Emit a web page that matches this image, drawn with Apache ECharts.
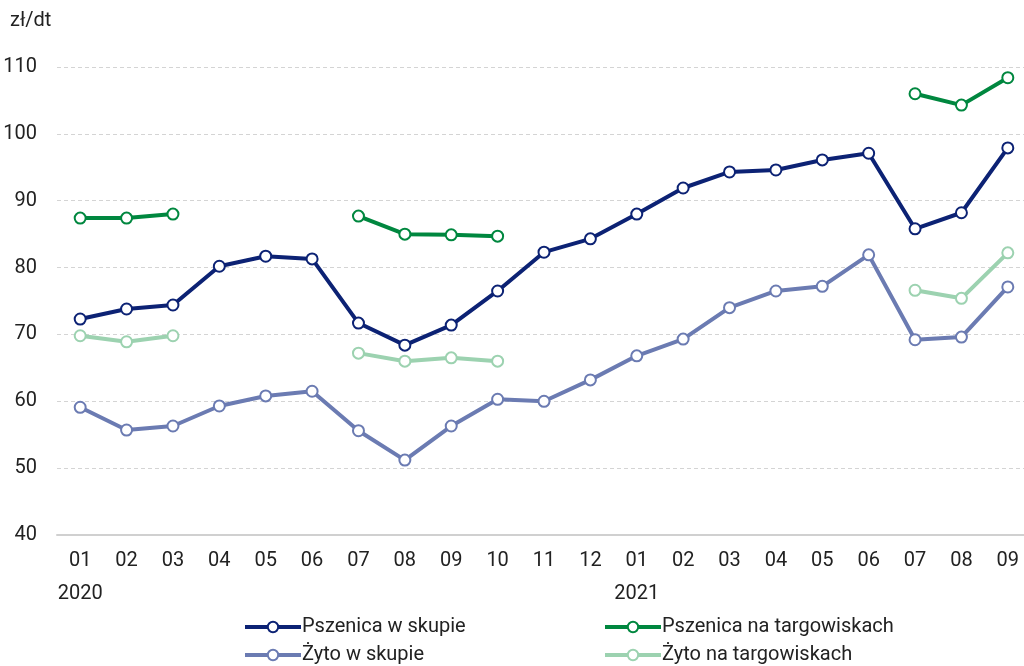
<!DOCTYPE html>
<html>
<head>
<meta charset="utf-8">
<script src="https://cdn.jsdelivr.net/npm/echarts@6/dist/echarts.min.js"></script>
<style>
  html, body { margin: 0; padding: 0; background: #fff; }
  #chart { width: 1024px; height: 666px; }
</style>
</head>
<body>
<div id="chart"></div>
<script>
// miesiące 2020-01 .. 2021-09
const months = ['01', '02', '03', '04', '05', '06', '07', '08', '09', '10', '11', '12',
                '01', '02', '03', '04', '05', '06', '07', '08', '09']
const yearLabels = { 0: '2020', 12: '2021' }

const pszenicaSkup = [72.3, 73.8, 74.4, 80.2, 81.7, 81.3, 71.7, 68.4, 71.4, 76.5, 82.3, 84.3,
                      88.0, 91.9, 94.3, 94.6, 96.1, 97.1, 85.8, 88.2, 97.9]
const pszenicaTarg = [87.4, 87.4, 88.0, null, null, null, 87.7, 85.0, 84.9, 84.7, null, null,
                      null, null, null, null, null, null, 106.0, 104.3, 108.4]
const zytoSkup = [59.1, 55.7, 56.3, 59.3, 60.8, 61.5, 55.6, 51.2, 56.3, 60.3, 60.0, 63.2,
                  66.8, 69.3, 74.0, 76.5, 77.2, 81.9, 69.2, 69.6, 77.1]
const zytoTarg = [69.8, 68.9, 69.8, null, null, null, 67.2, 66.0, 66.5, 66.0, null, null,
                  null, null, null, null, null, null, 76.6, 75.4, 82.2]

const font = 'Roboto, sans-serif'

function makeSeries(name, data, color) {
    return {
        name: name,
        type: 'line',
        data: data,
        connectNulls: false,
        symbol: 'emptyCircle',
        symbolSize: 11,
        lineStyle: { width: 4, color: color },
        itemStyle: { color: color, borderColor: color, borderWidth: 3 },
        emphasis: { disabled: true }
    }
}

const legendBase = {
    top: 612,
    height: 70,
    orient: 'vertical',
    itemGap: 8,
    itemWidth: 56,
    itemHeight: 13,
    lineStyle: { width: 4 },
    itemStyle: { borderWidth: 3 },
    textStyle: { fontFamily: font, fontSize: 20, color: '#222', padding: [0, 0, 0, -4] }
}

const chart = echarts.init(document.getElementById('chart'))
const option = {
    animation: false,
    textStyle: { fontFamily: font },
    grid: { left: 57, right: -7, top: 67, bottom: 131, outerBoundsMode: 'none', containLabel: false },
    graphic: [{
        type: 'text',
        left: 10,
        top: 11,
        style: { text: 'zł/dt', fontFamily: font, fontSize: 20, fill: '#222' }
    }],
    legend: [
        Object.assign({}, legendBase, { left: 238, data: ['Pszenica w skupie', 'Żyto w skupie'] }),
        Object.assign({}, legendBase, { left: 598, data: ['Pszenica na targowiskach', 'Żyto na targowiskach'] })
    ],
    xAxis: {
        type: 'category',
        data: months,
        boundaryGap: true,
        axisLine: { lineStyle: { color: '#d0d0d0', width: 2 } },
        axisTick: { show: false },
        axisLabel: {
            fontFamily: font,
            fontSize: 20,
            color: '#222',
            margin: 9,
            lineHeight: 33,
            interval: 0,
            formatter: function (value, index) {
                return yearLabels[index] ? value + '\n' + yearLabels[index] : value
            }
        }
    },
    yAxis: {
        type: 'value',
        min: 40,
        max: 110,
        interval: 10,
        axisLine: { show: false },
        axisTick: { show: false },
        axisLabel: { fontFamily: font, fontSize: 20, color: '#222', margin: 20 },
        splitLine: { lineStyle: { color: '#d4d4d4', type: [4, 3], width: 1 } }
    },
    series: [
        makeSeries('Pszenica w skupie', pszenicaSkup, '#0c2274'),
        makeSeries('Pszenica na targowiskach', pszenicaTarg, '#00873f'),
        makeSeries('Żyto w skupie', zytoSkup, '#6b7bb2'),
        makeSeries('Żyto na targowiskach', zytoTarg, '#9cd2b0')
    ]
}
chart.setOption(option)
</script>
</body>
</html>
